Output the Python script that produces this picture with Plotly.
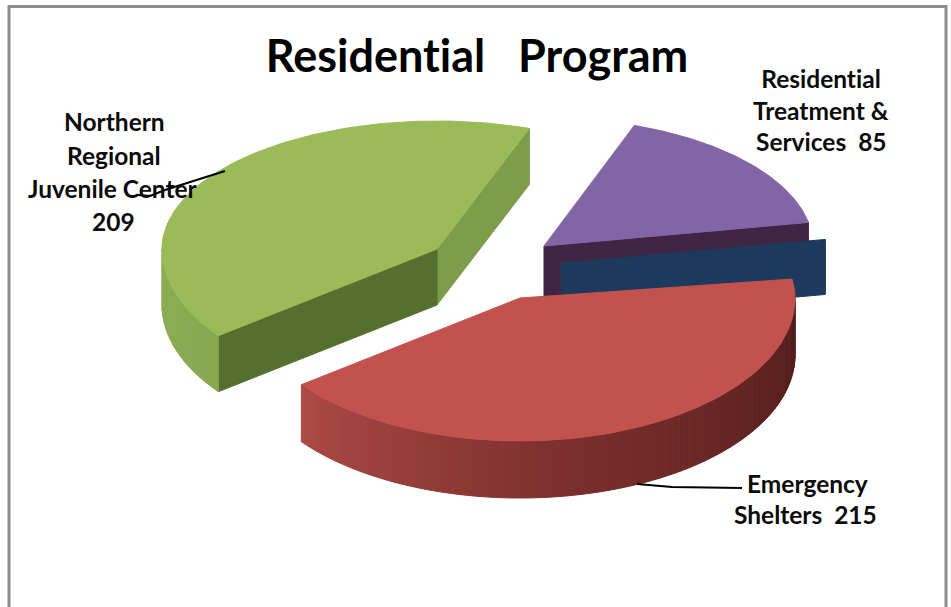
import numpy as np
import plotly.graph_objects as go

# ---- data ----
categories = ["Emergency Shelters", "Northern Regional Juvenile Center",
              "Residential Treatment & Services", "Other"]
values = [215, 209, 85, 3]
title_text = "Residential\u00a0\u00a0\u00a0Program"

# ---- projection of the tilted pie (styling, not data) ----
WIDTH, HEIGHT = 951, 607
START = -8.5
RY_FRONT, RY_BACK = 143, 128
radii = [275, 275, 269, 269]
depths = [57, 56, 52, 55]
centres = [(520, 298), (437, 249), (544, 246), (561, 263)]
top_cols = ["#c3524e", "#9bbb59", "#8364a6", "#1f3a5f"]
cut_cols = ["#a8463f", "#55702e", "#3f2543", "#1d3a5c"]

spans = 360 * np.array(values) / sum(values)
ends = START + np.cumsum(spans)
starts = ends - spans


def ell(i, t):
    c = centres[i]
    t = np.radians(t)
    s, co = np.sin(t), np.cos(t)
    ry = np.where(s >= 0, RY_FRONT, RY_BACK)
    return c[0] + radii[i] * co, c[1] + ry * s


def mix(a, b, f):
    a = [int(a[i:i + 2], 16) for i in (1, 3, 5)]
    b = [int(b[i:i + 2], 16) for i in (1, 3, 5)]
    return "#%02x%02x%02x" % tuple(round(p + (q - p) * f) for p, q in zip(a, b))


fig = go.Figure()


def poly(x, y, col, name=""):
    x, y = list(x), list(y)
    fig.add_trace(go.Scatter(x=x + x[:1], y=y + y[:1], mode="lines", fill="toself",
                             fillcolor=col, line=dict(color=col, width=1),
                             hoverinfo="skip", name=name, showlegend=False))


def cut_wall(i, t, col):
    c = centres[i]
    ex, ey = ell(i, t)
    d = depths[i]
    poly([c[0], float(ex), float(ex), c[0]], [c[1], float(ey), float(ey) + d, c[1] + d], col)


def outer_wall(i, t0, t1, colfn, n=48):
    ts = np.linspace(t0, t1, n + 1)
    xs, ys = ell(i, ts)
    d = depths[i]
    for k in range(n):
        poly([xs[k], xs[k + 1], xs[k + 1], xs[k]],
             [ys[k], ys[k + 1], ys[k + 1] + d, ys[k] + d], colfn((k + .5) / n))


def top(i):
    c = centres[i]
    ts = np.linspace(starts[i], ends[i], 120)
    xs, ys = ell(i, ts)
    poly([c[0]] + list(xs), [c[1]] + list(ys), top_cols[i], categories[i])


# green slice
cut_wall(1, ends[1], "#7d9c4c")
cut_wall(1, starts[1], cut_cols[1])
outer_wall(1, starts[1], 180, lambda f: mix("#86a850", "#8dae55", f), 16)
top(1)

# purple slice
cut_wall(2, ends[2], cut_cols[2])
top(2)

# blue sliver
cut_wall(3, starts[3], cut_cols[3])

# red slice
outer_wall(0, 0, ends[0],
           lambda f: mix("#4f1d1b", "#7a2e2c", f / .55) if f < .55
           else mix("#7a2e2c", "#ab4a46", (f - .55) / .45), 110)
top(0)

# leader lines
leader_green_x, leader_green_y = [138, 150, 165, 225], [195, 196, 190, 171]
leader_red_x, leader_red_y = [637, 672, 742], [484, 487, 488]
for lx, ly in ((leader_green_x, leader_green_y), (leader_red_x, leader_red_y)):
    fig.add_trace(go.Scatter(x=lx, y=ly, mode="lines", line=dict(color="#000000", width=2),
                             hoverinfo="skip", showlegend=False))

labels = [
    ("Northern", 114, 121), ("Regional", 114, 155), ("Juvenile Center", 113, 188), ("209", 113, 221),
    ("Residential", 821, 78), ("Treatment &", 821, 110), ("Services\u00a0\u00a085", 821, 141),
    ("Emergency", 807, 483), ("Shelters\u00a0\u00a0215", 805, 514),
]
for text, x, y in labels:
    fig.add_annotation(x=x, y=y, text=text, showarrow=False, xanchor="center", yanchor="middle",
                       font=dict(family="Lato", size=24.5, color="#0b0b0b", weight="bold"))

fig.update_layout(
    title=dict(text=title_text, x=477 / WIDTH, xanchor="center", y=1 - 56 / HEIGHT, yanchor="middle",
               font=dict(family="Lato", size=45, color="#000000", weight="bold")),
    width=WIDTH, height=HEIGHT, margin=dict(l=0, r=0, t=0, b=0),
    paper_bgcolor="#ffffff", plot_bgcolor="#ffffff", showlegend=False,
    xaxis=dict(range=[0, WIDTH], visible=False, fixedrange=True),
    yaxis=dict(range=[HEIGHT, 0], visible=False, fixedrange=True),
    shapes=[dict(type="rect", xref="x", yref="y", x0=9, x1=946, y0=6.5, y1=640,
                 line=dict(color="#8c8c8c", width=3))],
)
fig.write_html("out.html", config=dict(displayModeBar=False),
               post_script="document.body.style.margin='0';"
                           "document.head.insertAdjacentHTML('beforeend',"
                           "'<style>text{font-variant-ligatures:none !important}</style>');")
